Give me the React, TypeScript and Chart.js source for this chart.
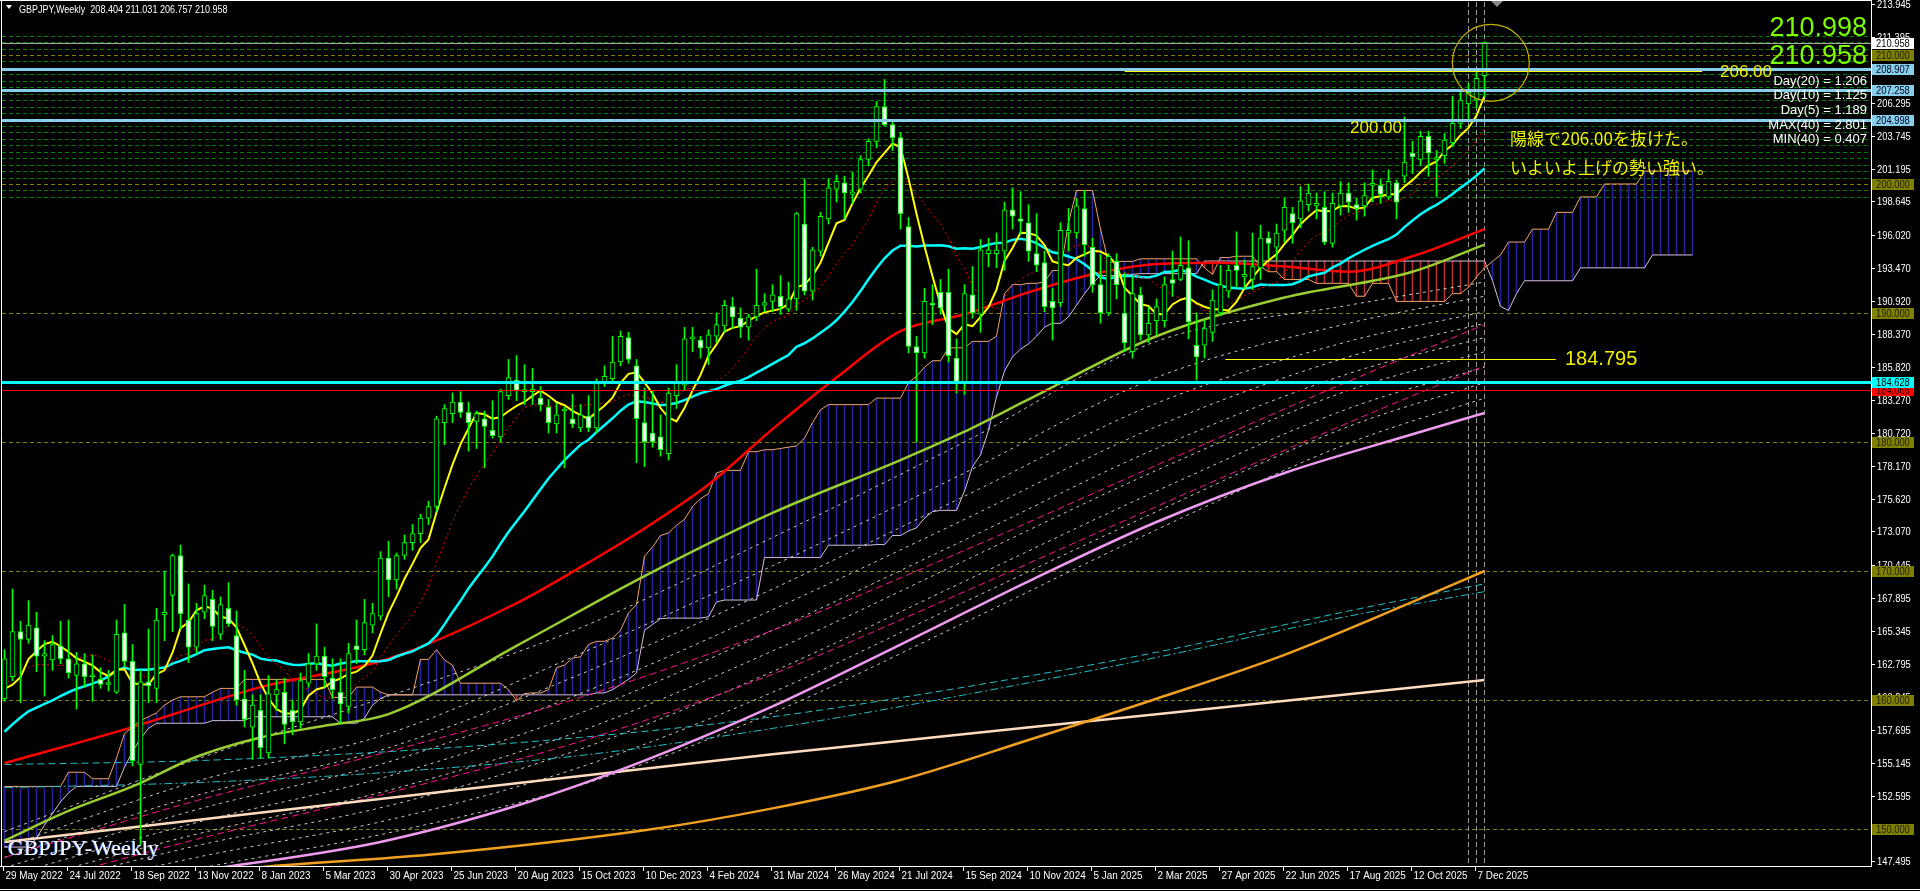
import { useEffect, useRef } from "react";
import { Chart, registerables } from "chart.js";

Chart.register(...registerables);

// ---------------------------------------------------------------------------
// GBPJPY weekly bars, 29 May 2022 .. 14 Dec 2025 (bar index = week number)
// ---------------------------------------------------------------------------
const SYMBOL = "GBPJPY,Weekly";
const LAST_OHLC = ["208.404", "211.031", "206.757", "210.958"];

const DATE_LABEL_BARS = [0, 8, 16, 24, 32, 40, 48, 56, 64, 72, 80, 88, 96, 104, 112, 120, 128, 136, 144, 152, 160, 168, 176, 184];
const DATE_LABELS = [
  "29 May 2022", "24 Jul 2022", "18 Sep 2022", "13 Nov 2022", "8 Jan 2023", "5 Mar 2023",
  "30 Apr 2023", "25 Jun 2023", "20 Aug 2023", "15 Oct 2023", "10 Dec 2023", "4 Feb 2024",
  "31 Mar 2024", "26 May 2024", "21 Jul 2024", "15 Sep 2024", "10 Nov 2024", "5 Jan 2025",
  "2 Mar 2025", "27 Apr 2025", "22 Jun 2025", "17 Aug 2025", "12 Oct 2025", "7 Dec 2025",
];

const OPEN = [
  160.1, 161.8, 165.3, 164.7, 165.6, 163.4, 163.1, 164.2, 163.2, 161.9,
  162.8, 161.8, 161.6, 161.2, 160.6, 165.2, 163.0, 155.0, 161.4, 160.9,
  166.6, 168.1, 171.2, 166.2, 164.1, 166.8, 167.8, 165.1, 167.1, 165.0,
  160.1, 157.9, 159.2, 155.9, 160.4, 160.6, 159.2, 158.3, 161.3, 162.8,
  163.4, 161.7, 160.6, 159.5, 164.2, 163.9, 165.8, 166.5, 171.0, 169.3,
  171.2, 172.2, 172.9, 174.1, 175.0, 181.5, 182.2, 183.1, 182.3, 181.6,
  181.8, 180.9, 180.4, 183.6, 184.8, 183.9, 183.9, 183.4, 182.7, 181.4,
  182.4, 181.8, 181.1, 182.0, 181.1, 184.6, 184.9, 186.2, 188.1, 185.9,
  181.5, 180.7, 180.4, 179.1, 183.6, 184.4, 188.0, 187.9, 187.3, 188.2,
  189.0, 190.5, 189.6, 188.9, 189.7, 190.6, 190.9, 191.3, 190.3, 191.1,
  196.9, 191.7, 194.8, 197.3, 199.6, 200.1, 199.2, 199.6, 201.9, 203.3,
  206.0, 204.6, 203.6, 196.7, 187.4, 186.9, 190.7, 191.6, 191.6, 186.5,
  184.6, 191.4, 189.9, 194.6, 194.6, 194.8, 198.0, 197.3, 197.0, 194.6,
  193.9, 190.9, 190.8, 196.2, 196.2, 198.1, 195.1, 192.2, 190.0, 194.0,
  190.0, 187.0, 191.4, 188.3, 189.4, 189.4, 192.6, 192.6, 193.5, 187.5,
  187.5, 188.5, 190.0, 191.7, 193.7, 192.8, 192.6, 193.5, 195.8, 195.1,
  196.4, 197.7, 197.3, 198.4, 198.3, 198.2, 195.4, 198.3, 199.3, 198.4,
  198.3, 199.9, 199.9, 199.0, 200.1, 200.6, 202.4, 201.9, 203.7, 201.9,
  202.2, 203.2, 204.7, 206.2, 206.5, 208.404,
];
const HIGH = [
  163.9, 168.6, 166.1, 167.7, 166.8, 164.6, 165.0, 166.1, 166.2, 163.7,
  163.6, 163.5, 162.5, 162.3, 166.2, 167.4, 164.3, 162.3, 165.5, 167.1,
  170.0, 171.3, 172.0, 169.0, 167.5, 168.9, 168.5, 168.0, 169.1, 166.9,
  162.3, 160.4, 160.4, 161.9, 161.6, 161.7, 160.0, 162.1, 163.6, 165.9,
  164.1, 163.2, 163.2, 164.4, 166.2, 167.8, 167.5, 171.5, 172.3, 171.4,
  172.8, 173.6, 174.4, 175.4, 182.0, 182.9, 183.8, 183.9, 183.1, 182.4,
  182.4, 183.2, 184.1, 186.4, 186.7, 186.0, 185.7, 184.3, 183.3, 183.0,
  182.7, 183.7, 182.9, 183.6, 184.9, 185.9, 188.2, 188.6, 188.5, 186.4,
  184.2, 184.0, 182.1, 184.2, 186.0, 188.9, 188.9, 188.2, 188.7, 190.0,
  191.0, 191.2, 190.4, 189.9, 193.4, 191.5, 192.2, 192.9, 192.4, 197.8,
  200.4, 195.1, 197.8, 200.4, 200.7, 200.6, 200.9, 202.2, 203.5, 206.4,
  208.1, 205.0, 204.0, 197.4, 188.2, 191.9, 192.2, 192.6, 193.4, 188.0,
  192.2, 193.6, 195.7, 195.8, 196.2, 198.6, 199.7, 199.4, 198.4, 197.7,
  194.8, 191.9, 197.0, 198.1, 198.9, 199.5, 195.8, 194.5, 194.6, 194.6,
  193.1, 192.8, 192.0, 190.5, 191.1, 192.8, 194.8, 195.9, 195.6, 190.0,
  189.5, 191.8, 193.7, 193.7, 196.3, 194.1, 196.2, 196.8, 196.3, 196.9,
  198.9, 198.2, 199.8, 200.0, 199.3, 199.4, 199.3, 200.2, 200.1, 198.9,
  200.1, 201.1, 200.4, 201.1, 200.3, 205.2, 203.3, 204.1, 204.1, 202.6,
  203.9, 206.8, 207.1, 207.8, 208.7, 211.031,
];
const LOW = [
  159.9, 161.5, 159.8, 164.4, 162.2, 160.3, 162.3, 162.8, 161.7, 159.3,
  161.0, 159.9, 160.9, 160.7, 160.5, 162.6, 154.9, 148.8, 159.8, 159.8,
  164.6, 165.3, 165.5, 162.9, 163.6, 166.3, 164.6, 164.7, 165.7, 159.6,
  157.9, 155.4, 155.5, 155.5, 159.2, 156.6, 157.3, 157.8, 161.0, 162.3,
  161.0, 160.1, 158.2, 159.0, 162.8, 163.5, 165.2, 166.2, 168.0, 168.6,
  170.9, 171.6, 172.2, 173.6, 174.6, 179.8, 181.5, 181.9, 179.3, 179.5,
  178.0, 180.3, 180.0, 183.3, 183.2, 182.9, 182.9, 182.4, 180.7, 180.7,
  178.0, 181.1, 180.8, 180.8, 180.7, 184.3, 184.7, 185.9, 186.1, 178.4,
  178.1, 179.6, 178.9, 178.6, 182.6, 184.0, 187.0, 186.5, 186.0, 187.7,
  188.5, 188.8, 188.1, 187.9, 189.4, 190.1, 190.1, 189.9, 190.1, 190.2,
  191.4, 191.0, 194.4, 196.9, 198.6, 197.3, 198.5, 199.3, 201.4, 202.8,
  204.5, 202.6, 196.5, 186.9, 180.0, 186.5, 189.1, 189.9, 186.2, 183.8,
  183.7, 189.6, 188.5, 193.6, 193.5, 193.3, 196.5, 196.1, 194.0, 193.2,
  190.1, 187.9, 190.5, 194.8, 195.8, 194.4, 191.6, 189.2, 189.8, 191.1,
  187.0, 186.5, 187.9, 187.7, 188.3, 188.9, 191.3, 192.5, 188.0, 184.8,
  186.5, 187.8, 189.8, 191.2, 192.0, 191.9, 191.8, 192.6, 194.2, 194.1,
  195.5, 195.4, 196.6, 197.9, 197.3, 195.3, 195.1, 197.6, 197.8, 197.2,
  197.5, 198.6, 198.5, 198.8, 197.3, 200.1, 200.8, 201.4, 200.6, 199.0,
  201.6, 202.9, 204.3, 205.0, 205.9, 206.757,
];
const CLOSE = [
  163.2, 165.3, 164.7, 165.8, 163.4, 163.6, 164.3, 163.2, 162.1, 162.8,
  161.8, 161.9, 161.2, 161.3, 165.1, 163.0, 155.3, 161.4, 161.1, 166.2,
  166.8, 171.2, 166.7, 164.1, 166.7, 168.1, 165.7, 167.4, 165.9, 160.0,
  158.5, 159.6, 156.3, 160.5, 160.8, 158.1, 158.3, 161.5, 162.8, 163.4,
  161.8, 160.8, 159.7, 163.6, 163.9, 166.0, 166.7, 171.0, 169.3, 171.2,
  172.2, 172.9, 174.1, 175.0, 181.8, 182.6, 183.1, 182.3, 181.5, 182.2,
  181.2, 180.5, 183.9, 185.0, 184.0, 184.0, 184.1, 182.9, 181.5, 182.1,
  182.5, 181.4, 182.1, 181.1, 184.7, 185.1, 186.2, 188.2, 186.4, 181.8,
  180.0, 180.0, 179.4, 183.8, 184.6, 188.0, 188.1, 187.3, 188.3, 189.1,
  190.6, 189.7, 188.9, 189.7, 190.6, 190.8, 191.4, 190.5, 191.1, 197.7,
  191.7, 194.9, 197.5, 199.7, 200.2, 199.3, 199.4, 201.9, 203.3, 206.0,
  204.6, 203.6, 197.7, 187.4, 186.9, 190.9, 190.6, 190.4, 186.7, 184.7,
  191.5, 190.0, 194.9, 194.9, 194.9, 198.0, 197.5, 197.1, 194.8, 193.7,
  190.5, 190.4, 196.4, 196.4, 198.3, 195.3, 192.2, 190.0, 194.4, 192.2,
  187.7, 191.5, 188.3, 189.2, 190.5, 192.2, 192.3, 193.7, 189.3, 186.6,
  188.8, 191.0, 192.2, 193.3, 193.3, 193.0, 193.6, 195.8, 195.4, 196.2,
  198.2, 197.0, 198.7, 199.3, 198.5, 195.5, 198.5, 199.3, 198.6, 198.1,
  199.1, 200.0, 199.2, 200.2, 198.6, 201.7, 202.1, 203.7, 202.4, 202.0,
  203.4, 204.7, 206.5, 207.1, 208.2, 210.958,
];
// weekly closes before the first visible bar (Dec 2021 .. May 2022), for the moving averages
const PRIOR_CLOSE = [
  149.9, 150.5, 151.0, 153.3, 155.7, 156.4, 156.9, 154.6, 154.5, 155.9,
  156.7, 156.6, 155.2, 152.6, 153.3, 156.8, 160.5, 160.9, 160.8, 163.9,
  164.8, 163.4, 161.2, 157.4, 159.7, 160.3,
];

// Ichimoku leading spans, one value per bar (shifted 26 bars ahead)
const SPAN_A = [
  153.3, 153.3, 153.3, 153.3, 153.3, 153.3, 153.3, 153.3, 154.4, 154.4,
  154.4, 153.9, 153.9, 153.9, 155.5, 157.4, 157.9, 158.4, 158.7, 159.0,
  159.6, 160.0, 160.25, 160.25, 160.25, 160.25, 160.6, 160.9, 160.9, 160.9,
  161.6, 161.6, 161.6, 161.6, 161.6, 161.6, 161.6, 161.6, 161.6, 161.6,
  161.6, 160.2, 160.2, 160.2, 161.0, 161.0, 161.0, 160.6, 160.4, 160.4,
  160.4, 160.4, 163.15, 163.15, 163.9, 163.1, 162.7, 161.3, 161.3, 161.3,
  161.3, 161.3, 161.3, 160.8, 159.95, 160.5, 160.55, 160.55, 160.8, 162.5,
  162.7, 163.25, 163.35, 164.3, 164.55, 164.55, 164.8, 165.4, 166.75, 167.4,
  171.15, 171.85, 172.75, 172.95, 173.55, 174.0, 175.0, 175.6, 176.0, 177.6,
  177.8, 177.8, 177.8, 179.25, 179.25, 179.4, 179.4, 179.5, 179.6, 179.7,
  180.3, 181.5, 182.5, 182.9, 182.9, 182.9, 182.9, 182.9, 182.9, 183.4,
  183.4, 183.4, 183.4, 184.6, 185.1, 185.8, 186.3, 186.3, 187.3, 187.3,
  187.3, 187.8, 187.8, 187.8, 188.2, 191.5, 192.2, 192.2, 192.3, 192.3,
  192.4, 193.3, 193.3, 197.0, 199.5, 199.5, 199.5, 196.5, 193.9, 194.0,
  194.0, 194.0, 194.2, 194.2, 194.2, 194.2, 194.2, 194.2, 194.2, 194.2,
  193.5, 193.0, 194.3, 194.3, 194.4, 194.4, 194.4, 193.6, 193.2, 193.2,
  192.6, 192.6, 192.6, 192.6, 192.3, 192.3, 192.3, 192.3, 192.3, 191.3,
  191.3, 192.3, 192.3, 192.3, 190.9, 190.9, 190.9, 190.9, 190.9, 190.9,
  190.9, 191.5, 191.5, 192.0, 192.8, 193.5, 194.0, 194.5, 195.5, 195.5,
  195.5, 196.5, 196.5, 196.5, 197.8, 197.8, 197.8, 199.0, 199.0, 199.0,
  200.0, 200.0, 200.0, 200.0, 200.0, 201.0, 201.0, 201.0, 201.0, 201.0,
  201.0, 201.0,
];
const SPAN_B = [
  148.6, 148.6, 148.6, 148.6, 149.3, 150.3, 151.2, 152.1, 152.8, 153.3,
  153.3, 153.3, 153.3, 153.3, 153.3, 154.8, 156.0, 157.0, 157.8, 158.2,
  158.2, 158.2, 158.2, 158.2, 158.2, 158.2, 158.4, 158.4, 158.4, 158.4,
  158.4, 158.7, 158.7, 158.7, 158.7, 158.7, 158.7, 158.7, 158.7, 158.7,
  158.7, 158.7, 158.2, 158.2, 158.2, 158.6, 159.6, 160.1, 160.4, 160.4,
  160.4, 160.4, 160.4, 160.4, 160.4, 160.4, 160.4, 160.4, 160.4, 160.4,
  160.4, 160.4, 160.4, 160.4, 160.4, 160.4, 160.4, 160.4, 160.4, 160.4,
  160.4, 160.4, 160.4, 160.4, 160.55, 160.55, 160.8, 161.2, 161.6, 162.1,
  165.4, 165.85, 166.3, 166.35, 166.35, 166.35, 166.35, 166.35, 166.45, 167.6,
  167.75, 167.75, 167.75, 167.75, 167.75, 171.05, 171.05, 171.05, 171.05, 171.05,
  171.05, 171.05, 171.05, 172.0, 172.0, 172.0, 172.0, 172.0, 172.0, 172.05,
  172.05, 172.75, 172.75, 173.1, 173.35, 174.1, 174.6, 174.7, 174.7, 174.7,
  176.2, 178.1, 179.0, 180.9, 183.5, 185.5, 186.6, 187.2, 187.6, 188.2,
  188.9, 189.2, 189.2, 189.7, 190.6, 191.5, 192.3, 192.9, 192.9, 192.9,
  193.0, 193.0, 193.05, 193.05, 193.05, 193.05, 193.05, 193.05, 193.05, 193.05,
  194.03, 194.03, 194.03, 194.03, 194.03, 194.03, 194.03, 194.03, 194.03, 194.03,
  194.03, 194.03, 194.03, 194.03, 194.03, 194.03, 194.03, 194.03, 194.03, 194.03,
  194.03, 194.03, 194.03, 194.03, 194.03, 194.03, 194.03, 194.03, 194.03, 194.03,
  194.03, 194.03, 194.03, 194.03, 194.03, 194.03, 192.5, 190.5, 190.2, 191.5,
  192.5, 192.5, 192.5, 192.5, 192.5, 192.5, 192.5, 193.5, 193.5, 193.5,
  193.5, 193.5, 193.5, 193.5, 193.5, 193.5, 194.5, 194.5, 194.5, 194.5,
  194.5, 194.5,
];

// Long moving averages, sampled at the listed bars
const RED_MA_BARS = [0, 16, 32, 48, 64, 72, 80, 88, 96, 104, 112, 120, 128, 136, 144, 152, 160, 168, 176, 185];
const RED_MA = [155.1, 157.9, 161.0, 163.2, 167.5, 170.3, 173.3, 176.7, 181.0, 185.0, 188.6, 189.9, 191.6, 193.0, 193.8, 193.9, 193.6, 193.2, 194.4, 196.5];
const GREEN_MA_BARS = [0, 8, 16, 24, 32, 40, 48, 64, 80, 96, 112, 120, 128, 144, 160, 176, 185];
const GREEN_MA = [149.1, 151.4, 153.3, 155.6, 157.1, 158.0, 158.9, 164.2, 169.6, 174.5, 178.6, 180.8, 183.3, 188.2, 191.2, 193.2, 195.3];
const CREAM_MA_BARS = [0, 48, 96, 144, 185];
const CREAM_MA = [149.0, 152.4, 155.8, 158.9, 161.55];
const ORANGE_MA_BARS = [0, 33, 53, 80, 96, 112, 128, 144, 160, 176, 185];
const ORANGE_MA = [145.0, 147.1, 148.0, 149.9, 151.6, 153.8, 156.9, 160.1, 163.5, 167.6, 170.0];
const VIOLET_MA_BARS = [0, 28, 47, 64, 80, 96, 112, 128, 144, 160, 176, 185];
const VIOLET_MA = [145.0, 147.1, 149.0, 151.8, 155.3, 159.5, 164.3, 169.2, 173.8, 177.6, 180.6, 182.25];
const SLOW_BARS = [0, 24, 48, 72, 96, 120, 144, 168, 185];
const TEAL_MA_1 = [155.0, 155.3, 156.0, 157.1, 158.7, 161.0, 163.7, 166.9, 169.0];
const TEAL_MA_2 = [153.2, 153.6, 154.4, 155.7, 157.8, 160.4, 163.3, 166.5, 168.4];
const PINK_MA_1 = [147.8, 152.2, 156.0, 160.2, 165.4, 171.6, 178.2, 184.7, 189.1];
const PINK_MA_2 = [145.2, 149.2, 152.8, 156.8, 162.0, 168.4, 175.0, 181.5, 185.9];
const RIBBON = [
  [149.8, 155.4, 160.3, 165.6, 172.6, 180.0, 187.8, 190.6, 192.4],
  [148.6, 153.7, 157.4, 163.6, 170.4, 177.6, 185.0, 189.2, 191.3],
  [147.8, 152.6, 156.3, 162.0, 168.6, 175.8, 183.0, 187.8, 190.1],
  [147.0, 151.5, 155.2, 160.5, 167.0, 174.0, 181.2, 186.6, 189.2],
  [146.3, 150.5, 154.1, 159.0, 165.4, 172.4, 179.5, 185.3, 188.1],
  [145.6, 149.6, 153.0, 157.6, 163.8, 170.8, 177.8, 184.0, 187.0],
  [145.0, 148.7, 151.8, 156.2, 162.2, 169.2, 176.2, 182.6, 185.8],
  [144.4, 147.8, 150.7, 154.8, 160.6, 167.6, 174.6, 181.2, 184.6],
  [143.8, 146.9, 149.7, 153.4, 159.0, 166.0, 173.2, 179.9, 183.4],
];

// Price axis
const Y_TICKS = [
  213.945, 211.395, 208.845, 206.295, 203.745, 201.195, 198.645, 196.02, 193.47, 190.92,
  188.37, 185.82, 183.27, 180.72, 178.17, 175.62, 173.07, 170.445, 167.895, 165.345,
  162.795, 160.245, 157.695, 155.145, 152.595, 150.045, 147.495,
];

// Horizontal levels
const ROUND_LEVELS = [150, 160, 170, 180, 190, 200, 210];
const HALF_LEVELS = [
  199.0, 199.5, 200.5, 201.0, 201.5, 202.0, 202.5, 203.0, 203.5, 204.0, 204.5, 205.0, 205.5,
  206.0, 206.5, 207.0, 207.5, 208.0, 208.5, 209.0, 209.5, 210.5, 211.0, 211.5,
];
const BID = 210.958;
const SKY_LEVELS = [208.907, 207.258, 204.998];
const CYAN_LEVEL = 184.628;
const RED_LEVEL = 184.065;
const MARK_LINE_PRICE = 208.78;
const MARK_LINE_BARS = [140, 212.2];
const LOW_LINE_PRICE = 186.43;
const LOW_LINE_BARS = [152.6, 193.9];
const CURRENT_BARS = [183, 184, 185];

const INFO_LINES = ["Day(20) = 1.206", "Day(10) = 1.125", "Day(5) = 1.189", "MAX(40) = 2.801", "MIN(40) = 0.407"];
const BIG_PRICES = ["210.998", "210.958"];
const NOTE_LINES = ["陽線で206.00を抜けた。", "いよいよ上げの勢い強い。"];

// ---------------------------------------------------------------------------
const X_MIN = -0.3125;
const X_MAX = 233.3125;
const Y_MIN = 147.132;
const Y_MAX = 214.109;

const UI_FONT = '11px "Liberation Sans", Arial, sans-serif';
const UI_SQUEEZE = 0.85;
const DATE_SQUEEZE = 0.9;
const OLIVE = "#808000";
const SKY = "#87ceeb";

function sma(period: number) {
  const all = [...PRIOR_CLOSE, ...CLOSE];
  const off = PRIOR_CLOSE.length;
  return CLOSE.map((_, i) => {
    let s = 0;
    for (let k = 0; k < period; k++) s += all[off + i - k];
    return { x: i, y: s / period };
  });
}

function pts(bars: number[], vals: number[]) {
  return bars.map((b, i) => ({ x: b, y: vals[i] }));
}

function drawText(ctx: any, str: string, x: number, y: number, font: string, color: string, align = "left", squeeze = 1, baseline = "alphabetic") {
  ctx.save();
  ctx.font = font;
  ctx.fillStyle = color;
  ctx.textAlign = align;
  ctx.textBaseline = baseline;
  ctx.translate(x, y);
  ctx.scale(squeeze, 1);
  ctx.fillText(str, 0, 0);
  ctx.restore();
}

function hLine(ctx: any, y: number, x0: number, x1: number, color: string, width: number, dash: number[] = []) {
  ctx.save();
  ctx.strokeStyle = color;
  ctx.lineWidth = width;
  ctx.setLineDash(dash);
  const yy = width % 2 === 1 ? Math.round(y) + 0.5 : Math.round(y);
  ctx.beginPath();
  ctx.moveTo(x0, yy);
  ctx.lineTo(x1, yy);
  ctx.stroke();
  ctx.restore();
}

function vLine(ctx: any, x: number, y0: number, y1: number, color: string, width: number, dash: number[] = []) {
  ctx.save();
  ctx.strokeStyle = color;
  ctx.lineWidth = width;
  ctx.setLineDash(dash);
  const xx = Math.round(x) + 0.5;
  ctx.beginPath();
  ctx.moveTo(xx, y0);
  ctx.lineTo(xx, y1);
  ctx.stroke();
  ctx.restore();
}

const backgroundPlugin = {
  id: "mtBackground",
  beforeDraw(chart: any) {
    const ctx = chart.ctx;
    ctx.save();
    ctx.fillStyle = "#000";
    ctx.fillRect(0, 0, chart.width, chart.height);
    ctx.restore();
  },
};

const gridPlugin = {
  id: "mtGrid",
  beforeDatasetsDraw(chart: any) {
    const { ctx, chartArea: a, scales } = chart;
    const y = scales.y, x = scales.x;
    ctx.save();
    ctx.beginPath();
    ctx.rect(a.left, a.top, a.right - a.left, a.bottom - a.top);
    ctx.clip();
    HALF_LEVELS.forEach((v) => hLine(ctx, y.getPixelForValue(v), a.left, a.right, "#008000", 1, [4, 3]));
    ROUND_LEVELS.forEach((v) => hLine(ctx, y.getPixelForValue(v), a.left, a.right, OLIVE, 1, [4, 3]));
    CURRENT_BARS.forEach((b) => vLine(ctx, x.getPixelForValue(b) - 0.5, a.top, a.bottom, "#9a9a9a", 1, [5, 3]));
    ctx.restore();
  },
};

const objectsPlugin = {
  id: "mtObjects",
  afterDatasetsDraw(chart: any) {
    const { ctx, chartArea: a, scales } = chart;
    const y = scales.y, x = scales.x;
    ctx.save();
    ctx.beginPath();
    ctx.rect(a.left, a.top, a.right - a.left, a.bottom - a.top);
    ctx.clip();
    hLine(ctx, y.getPixelForValue(BID), a.left, a.right, "#a8a8a8", 1);
    SKY_LEVELS.forEach((v) => hLine(ctx, y.getPixelForValue(v), a.left, a.right, SKY, 3));
    hLine(ctx, y.getPixelForValue(RED_LEVEL), a.left, a.right, "#ff0000", 1);
    hLine(ctx, y.getPixelForValue(CYAN_LEVEL), a.left, a.right, "#00ffff", 3);
    hLine(ctx, y.getPixelForValue(MARK_LINE_PRICE), x.getPixelForValue(MARK_LINE_BARS[0]), x.getPixelForValue(MARK_LINE_BARS[1]), "#ffff00", 1);
    hLine(ctx, y.getPixelForValue(LOW_LINE_PRICE), x.getPixelForValue(LOW_LINE_BARS[0]), x.getPixelForValue(LOW_LINE_BARS[1]), "#ffff00", 1);

    // highlight circle around the latest breakout bar
    ctx.strokeStyle = "#c8b400";
    ctx.lineWidth = 1.2;
    ctx.beginPath();
    ctx.arc(1490.8, 62.8, 38.5, 0, Math.PI * 2);
    ctx.stroke();
    ctx.restore();

    // chart annotations
    const yellow = "#f0f000";
    drawText(ctx, "200.00", 1350, 133, '17px "Liberation Sans", Arial, sans-serif', yellow);
    drawText(ctx, "206.00", 1720, 77, '17px "Liberation Sans", Arial, sans-serif', yellow);
    drawText(ctx, "184.795", 1565, 365, '20px "Liberation Sans", Arial, sans-serif', yellow);
    drawText(ctx, NOTE_LINES[0], 1510, 145, '17px "Noto Sans CJK JP", sans-serif', yellow);
    drawText(ctx, NOTE_LINES[1], 1510, 174, '17px "Noto Sans CJK JP", sans-serif', yellow);

    const green = "#7cfc00";
    drawText(ctx, BIG_PRICES[0], 1867, 35.5, '27px "Liberation Sans", Arial, sans-serif', green, "right");
    drawText(ctx, BIG_PRICES[1], 1867, 63.5, '27px "Liberation Sans", Arial, sans-serif', green, "right");
    const infoY = [84.5, 99, 113.5, 128.5, 143];
    INFO_LINES.forEach((t, i) => drawText(ctx, t, 1867, infoY[i], '13px "Liberation Sans", Arial, sans-serif', "#ffffff", "right"));

    // symbol watermark
    const wm = '22px "Liberation Serif", "Times New Roman", serif';
    drawText(ctx, "GBPJPY-Weekly", 7, 854.5, wm, "#4a78ff");
    drawText(ctx, "GBPJPY-Weekly", 8, 854.5, wm, "#ffffff");
  },
};

const framePlugin = {
  id: "mtFrame",
  afterDraw(chart: any) {
    const { ctx, chartArea: a, scales } = chart;
    const y = scales.y, x = scales.x;
    const W = chart.width;

    // frame
    hLine(ctx, 0, 0, a.right + 1, "#ffffff", 1);
    vLine(ctx, a.left - 1, 0, a.bottom + 1, "#ffffff", 1);
    vLine(ctx, a.right, 0, a.bottom + 1, "#ffffff", 1);
    hLine(ctx, a.bottom, 0, a.right + 1, "#ffffff", 1);
    hLine(ctx, chart.height - 2, 0, W, "#ffffff", 1);

    // price axis
    Y_TICKS.forEach((v) => {
      const py = y.getPixelForValue(v);
      hLine(ctx, py, a.right, a.right + 4, "#ffffff", 1);
      drawText(ctx, v.toFixed(3), a.right + 6, Math.round(py) + 0.5, UI_FONT, "#ffffff", "left", UI_SQUEEZE, "middle");
    });

    // time axis
    DATE_LABEL_BARS.forEach((b, i) => {
      const px = x.getPixelForValue(b);
      vLine(ctx, px - 1.5, a.bottom, a.bottom + 5, "#ffffff", 1);
      drawText(ctx, DATE_LABELS[i], px + 1, a.bottom + 13, UI_FONT, "#ffffff", "left", DATE_SQUEEZE);
    });

    // price tags on the axis
    const tag = (v: number, bg: string, fg: string) => {
      const py = Math.round(y.getPixelForValue(v));
      ctx.save();
      ctx.fillStyle = bg;
      ctx.fillRect(a.right + 1, py - 5, 42, 11);
      ctx.restore();
      drawText(ctx, v.toFixed(3), a.right + 5, py + 0.5, UI_FONT, fg, "left", UI_SQUEEZE, "middle");
    };
    tag(210, OLIVE, "#1c1c00");
    tag(BID, "#ffffff", "#000000");
    SKY_LEVELS.forEach((v) => tag(v, SKY, "#00001a"));
    tag(200, OLIVE, "#1c1c00");
    tag(190, OLIVE, "#1c1c00");
    tag(RED_LEVEL, "#ff0000", "#200000");
    tag(CYAN_LEVEL, "#00ffff", "#000000");
    [180, 170, 160, 150].forEach((v) => tag(v, OLIVE, "#1c1c00"));

    // header
    ctx.save();
    ctx.fillStyle = "#ffffff";
    ctx.beginPath();
    ctx.moveTo(6, 5);
    ctx.lineTo(12, 5);
    ctx.lineTo(9, 9);
    ctx.closePath();
    ctx.fill();
    ctx.fillStyle = "#8a8a8a";
    ctx.beginPath();
    ctx.moveTo(1491, 1);
    ctx.lineTo(1503, 1);
    ctx.lineTo(1497, 7);
    ctx.closePath();
    ctx.fill();
    ctx.restore();
    drawText(ctx, SYMBOL + "  " + LAST_OHLC.join(" "), 19, 13, UI_FONT, "#ffffff", "left", 0.82);
  },
};

export default function App() {
  const ref = useRef<HTMLCanvasElement>(null);

  useEffect(() => {
    document.body.style.margin = "0";
    document.body.style.background = "#000";
    const canvas = ref.current;
    if (!canvas) return;

    const cloudData = SPAN_A.map((v, i) => ({ x: i, y: [Math.min(v, SPAN_B[i]), Math.max(v, SPAN_B[i])] }));
    const cloudColors = SPAN_A.map((v, i) => (v >= SPAN_B[i] ? "#22229c" : "#b43232"));

    const lineDs = (data: any[], color: string, width: number, order: number, dash: number[] = [], smooth = true) => ({
      type: "line",
      data,
      borderColor: color,
      borderWidth: width,
      borderDash: dash,
      pointRadius: 0,
      fill: false,
      order,
      cubicInterpolationMode: smooth ? "monotone" : "default",
      tension: 0,
    });

    const datasets: any[] = [
      {
        type: "bar",
        data: OPEN.map((o, i) => ({ x: i, y: [o, CLOSE[i]] })),
        backgroundColor: OPEN.map((o, i) => (CLOSE[i] >= o ? "#000000" : "#ffffff")),
        borderColor: "#00ff00",
        borderWidth: 1,
        borderSkipped: false,
        barThickness: 5,
        minBarLength: 2,
        grouped: false,
        order: 0,
      },
      {
        type: "bar",
        data: HIGH.map((h, i) => ({ x: i, y: [LOW[i], h] })),
        backgroundColor: "#00ff00",
        barThickness: 1,
        grouped: false,
        order: 1,
      },
      lineDs(sma(6), "#ffff00", 2, 2, [], false),
      lineDs(sma(12), "#ff0000", 1, 3, [2, 3], false),
      lineDs(sma(26), "#00ffff", 2.5, 4, [], false),
      lineDs(pts(RED_MA_BARS, RED_MA), "#ff0000", 2.5, 5),
      lineDs(pts(GREEN_MA_BARS, GREEN_MA), "#9acd32", 2.5, 6),
      lineDs(pts(VIOLET_MA_BARS, VIOLET_MA), "#ee9aee", 2.5, 7),
      lineDs(pts(ORANGE_MA_BARS, ORANGE_MA), "#f0a020", 2.5, 8),
      lineDs(pts(CREAM_MA_BARS, CREAM_MA), "#ffdcc0", 2.5, 9),
      lineDs(pts(SLOW_BARS, TEAL_MA_1), "#20c0c8", 1, 10, [7, 4]),
      lineDs(pts(SLOW_BARS, TEAL_MA_2), "#20c0c8", 1, 11, [8, 3, 2, 3]),
      lineDs(pts(SLOW_BARS, PINK_MA_1), "#ff1493", 1, 12, [7, 4]),
      lineDs(pts(SLOW_BARS, PINK_MA_2), "#ff1493", 1, 13, [7, 4]),
      ...RIBBON.map((vals, k) => lineDs(pts(SLOW_BARS, vals), "#c8c8c8", 1, 14 + k, [3, 4])),
      lineDs(SPAN_A.map((v, i) => ({ x: i, y: v })), "#f4a460", 1, 30, [], false),
      lineDs(SPAN_B.map((v, i) => ({ x: i, y: v })), "#d8bfd8", 1, 31, [], false),
      {
        type: "bar",
        data: cloudData,
        backgroundColor: cloudColors,
        barThickness: 1,
        grouped: false,
        order: 40,
      },
    ];

    const chart = new Chart(canvas, {
      type: "bar",
      data: { datasets },
      options: {
        animation: false,
        responsive: false,
        maintainAspectRatio: false,
        devicePixelRatio: 1,
        events: [],
        layout: { padding: { top: 2, left: 2, right: 0, bottom: 0 } },
        plugins: { legend: { display: false }, tooltip: { enabled: false } },
        scales: {
          x: {
            type: "linear",
            min: X_MIN,
            max: X_MAX,
            offset: false,
            grid: { display: false },
            border: { display: false },
            ticks: { display: false },
            afterFit: (s: any) => {
              s.height = 25;
              s.paddingLeft = 0;
              s.paddingRight = 0;
            },
          },
          y: {
            type: "linear",
            position: "right",
            min: Y_MIN,
            max: Y_MAX,
            grid: { display: false },
            border: { display: false },
            ticks: { display: false },
            afterFit: (s: any) => {
              s.width = 49;
              s.paddingTop = 0;
              s.paddingBottom = 0;
            },
          },
        },
      } as any,
      plugins: [backgroundPlugin, gridPlugin, objectsPlugin, framePlugin],
    } as any);

    return () => chart.destroy();
  }, []);

  return (
    <div style={{ width: 1920, height: 891, background: "#000" }}>
      <canvas ref={ref} width={1920} height={891} style={{ display: "block" }} />
    </div>
  );
}
